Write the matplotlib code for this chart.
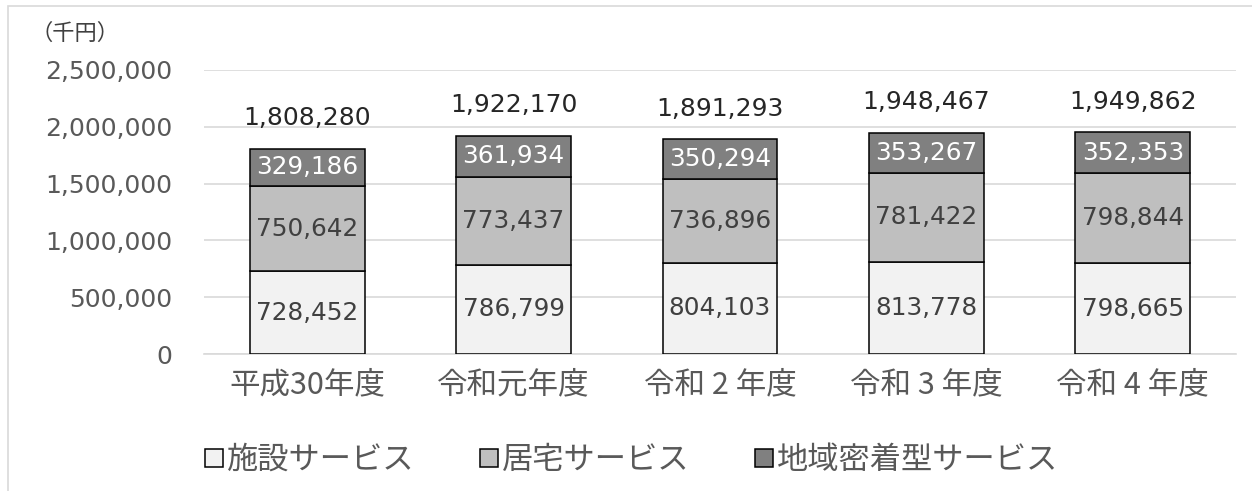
import matplotlib
matplotlib.use('Agg')
import matplotlib.pyplot as plt
from matplotlib.patches import Rectangle
import numpy as np

plt.rcParams['font.family'] = ['DejaVu Sans', 'Noto Sans CJK JP']

years = ['平成30年度', '令和元年度', '令和 2 年度', '令和 3 年度', '令和 4 年度']
shisetsu = [728452, 786799, 804103, 813778, 798665]     # 施設サービス
kyotaku = [750642, 773437, 736896, 781422, 798844]      # 居宅サービス
chiiki = [329186, 361934, 350294, 353267, 352353]       # 地域密着型サービス
totals = [1808280, 1922170, 1891293, 1948467, 1949862]

series_names = ['施設サービス', '居宅サービス', '地域密着型サービス']
colors = ['#f2f2f2', '#bfbfbf', '#808080']
text_colors = ['#404040', '#404040', '#ffffff']
cjk = ['Noto Sans CJK JP', 'DejaVu Sans']

fig = plt.figure(figsize=(12.52, 4.91), dpi=100)
ax = fig.add_axes([204/1252, 1-354/491, 1032/1252, 284/491])

# outer frame of the chart area
fig.patches.append(Rectangle((8/1252, -0.2), 1.5, 1.2 - 6/491, transform=fig.transFigure,
                             fill=False, edgecolor='#d9d9d9', linewidth=1.2))

x = np.arange(len(years))
bottom = np.zeros(len(years))
handles = []
for vals, c, tc, name in zip([shisetsu, kyotaku, chiiki], colors, text_colors, series_names):
    bars = ax.bar(x, vals, width=0.557, bottom=bottom, color=c, edgecolor='black',
                  linewidth=1.1, label=name, zorder=3)
    handles.append(bars)
    for xi, b, v in zip(x, bottom, vals):
        ax.text(xi, b + v/2, f'{v:,}', ha='center', va='center', fontsize=17.8,
                color=tc, zorder=4)
    bottom = bottom + np.array(vals)

for xi, t in zip(x, totals):
    ax.annotate(f'{t:,}', (xi, t), xytext=(0, 22), textcoords='offset points',
                ha='center', va='center', fontsize=18, color='#262626')

ax.set_xlim(-0.5, len(years) - 0.5)
ax.set_ylim(0, 2500000)
ax.set_yticks(np.arange(0, 2500001, 500000))
ax.set_yticklabels([f'{v:,}' for v in np.arange(0, 2500001, 500000)])
ax.yaxis.grid(True, color='#d9d9d9', linewidth=1.2, zorder=0)
ax.set_axisbelow(True)
for s in ['top', 'right', 'left']:
    ax.spines[s].set_visible(False)
ax.spines['bottom'].set_color('#d9d9d9')
ax.spines['bottom'].set_linewidth(1.2)
ax.tick_params(axis='both', length=0)
ax.tick_params(axis='y', labelsize=18, labelcolor='#595959', pad=23)
ax.set_xticks(x)
ax.set_xticklabels(years, fontsize=22, color='#595959', family=cjk)
ax.tick_params(axis='x', pad=11)

fig.text(30/1252, 1-33/491, '（千円）', fontsize=16, color='#404040', va='center',
         family=cjk)

leg = fig.legend(handles=handles, labels=series_names, loc='center', bbox_to_anchor=(632/1252, 1-460/491),
                 ncol=3, frameon=False, handlelength=0.55, handleheight=0.55, handletextpad=0.15,
                 columnspacing=2.1, prop={'family': cjk, 'size': 22.5})
for t in leg.get_texts():
    t.set_color('#595959')

fig.savefig('out.png', dpi=100)
